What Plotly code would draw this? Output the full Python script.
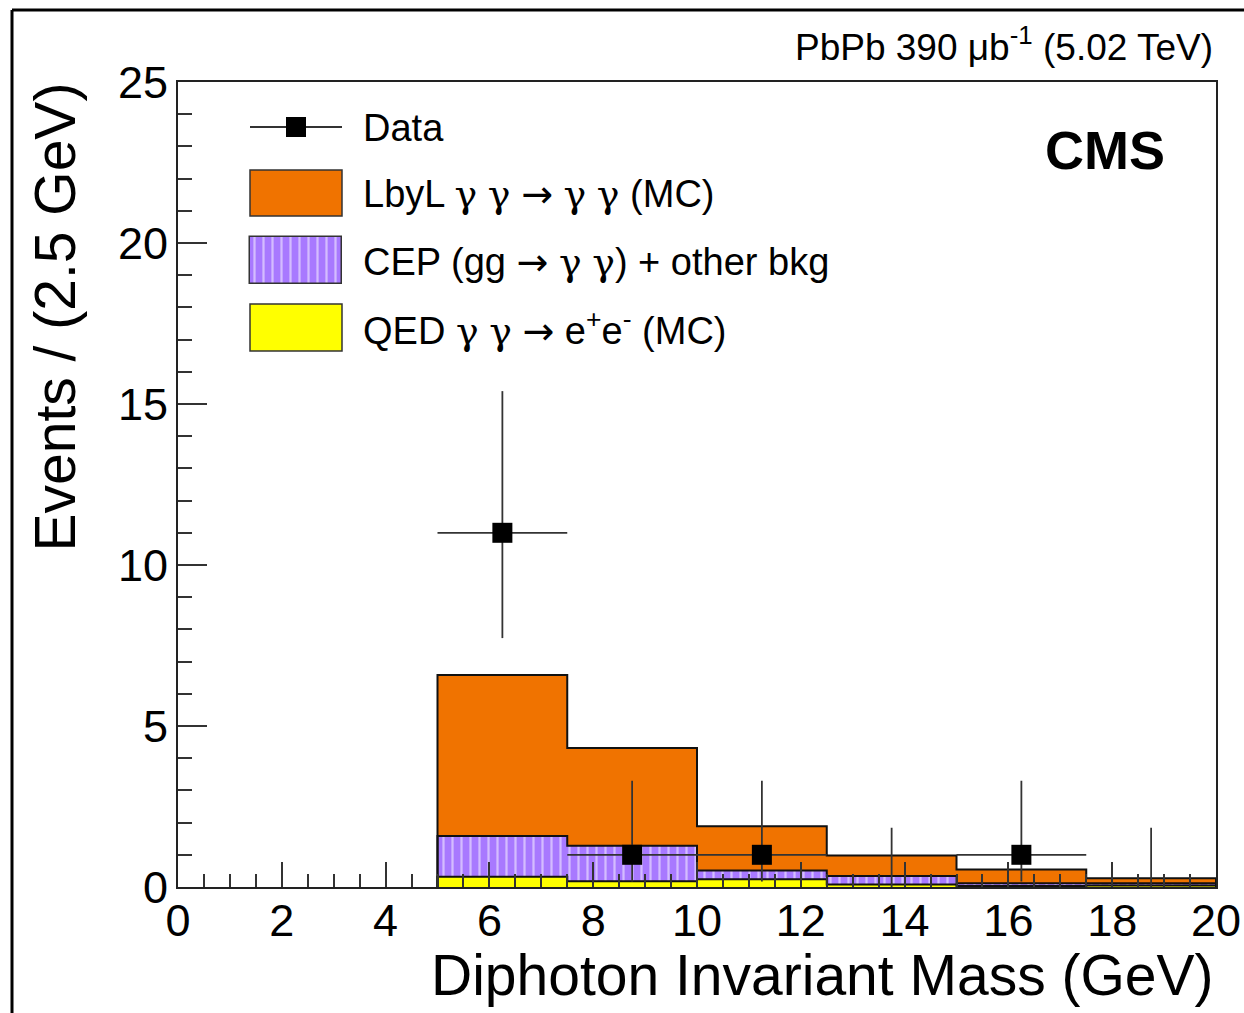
import numpy as np
import plotly.graph_objects as go

# ---------------- data ----------------
bin_edges = [5.0, 7.5, 10.0, 12.5, 15.0, 17.5, 20.0]
bin_centers = [6.25, 8.75, 11.25, 13.75, 16.25, 18.75]
qed_vals = [0.32, 0.18, 0.24, 0.08, 0.03, 0.05]
cep_vals = [1.26, 1.10, 0.27, 0.26, 0.09, 0.07]
lbyl_vals = [5.00, 3.04, 1.38, 0.64, 0.42, 0.15]

data_x = [6.25, 8.75, 11.25, 13.75, 16.25, 18.75]
data_y = [11, 1, 1, 0, 1, 0]
data_err_up = [4.40, 2.30, 2.30, 1.84, 2.30, 1.84]
data_err_dn = [3.27, 0.83, 0.83, 0.0, 0.83, 0.0]
data_err_x = [1.25, 1.25, 1.25, 0.0, 1.25, 0.0]

x_ticks = [0, 2, 4, 6, 8, 10, 12, 14, 16, 18, 20]
y_ticks = [0, 5, 10, 15, 20, 25]

ORANGE = "#f07300"
YELLOW = "#ffff00"
PURPLE = "#a879ff"
FONT = "Liberation Sans"
GREEK = "DejaVu Serif"
ARROW = "DejaVu Sans"

W, H = 1244, 1013
L, R, T, B = 178, 1216, 82, 887


def px(x):
    return (x - L) / (R - L)


def py(y):
    return (B - y) / (B - T)


qed = np.array(qed_vals)
cep = np.array(cep_vals)
lbyl = np.array(lbyl_vals)
lvl1 = qed
lvl2 = qed + cep
lvl3 = qed + cep + lbyl

fig = go.Figure()

# filled stacked histogram bins (no outlines)
fig.add_trace(go.Bar(x=bin_centers, y=qed, base=np.zeros_like(qed), width=2.5,
                     marker=dict(color=YELLOW, line=dict(width=0)), showlegend=False))
fig.add_trace(go.Bar(x=bin_centers, y=cep, base=lvl1, width=2.5,
                     marker=dict(color=PURPLE, line=dict(width=0),
                                 pattern=dict(shape="|", fgcolor="white", bgcolor=PURPLE,
                                              size=9, solidity=0.25)),
                     showlegend=False))
fig.add_trace(go.Bar(x=bin_centers, y=lbyl, base=lvl2, width=2.5,
                     marker=dict(color=ORANGE, line=dict(width=0)), showlegend=False))

# step outlines
for lvl in (lvl1, lvl2, lvl3):
    sx = [bin_edges[0]] + list(bin_edges[:-1]) + [bin_edges[-1], bin_edges[-1]]
    sy = [0.0] + list(lvl) + [lvl[-1], 0.0]
    fig.add_trace(go.Scatter(x=sx, y=sy, mode="lines", line=dict(color="#111", width=2, shape="hv"),
                             showlegend=False, hoverinfo="skip"))

# data points
fig.add_trace(go.Scatter(
    x=data_x, y=data_y, mode="markers",
    marker=dict(symbol="square", color="black", opacity=1,
                size=[20 if v > 0 else 0 for v in data_y], line=dict(width=0)),
    error_y=dict(type="data", symmetric=False, array=data_err_up, arrayminus=data_err_dn,
                 color="#333", thickness=1.8, width=0),
    error_x=dict(type="data", array=data_err_x, color="#333", thickness=1.8, width=0),
    showlegend=False, cliponaxis=True))

# legend swatch with pattern on an auxiliary pixel axis
fig.add_trace(go.Bar(x=[296], y=[47], base=[237], width=[92], xaxis="x2", yaxis="y2",
                     marker=dict(color=PURPLE, line=dict(color="#333", width=1.5),
                                 pattern=dict(shape="|", fgcolor="white", bgcolor=PURPLE,
                                              size=9, solidity=0.25)),
                     showlegend=False, hoverinfo="skip"))

shapes = []
# outer frame (left + top)
shapes.append(dict(type="line", xref="paper", yref="paper", x0=px(12), y0=py(1013), x1=px(12), y1=py(10),
                   line=dict(color="black", width=3)))
shapes.append(dict(type="line", xref="paper", yref="paper", x0=px(12), y0=py(10), x1=px(1244), y1=py(10),
                   line=dict(color="black", width=3)))
# legend: data
shapes.append(dict(type="line", xref="paper", yref="paper", x0=px(250), x1=px(342), y0=py(127), y1=py(127),
                   line=dict(color="#333", width=1.8)))
shapes.append(dict(type="rect", xref="paper", yref="paper", x0=px(286), x1=px(306), y0=py(117), y1=py(137),
                   fillcolor="black", line=dict(width=0)))
# legend boxes
shapes.append(dict(type="rect", xref="paper", yref="paper", x0=px(250), x1=px(342), y0=py(170), y1=py(216),
                   fillcolor=ORANGE, line=dict(color="#333", width=1.5)))
shapes.append(dict(type="rect", xref="paper", yref="paper", x0=px(250), x1=px(342), y0=py(304), y1=py(351),
                   fillcolor=YELLOW, line=dict(color="#333", width=1.5)))

gm = f'<span style="font-family:{GREEK}">γ</span>'
ar = f'<span style="font-family:{ARROW}">→</span>'
annotations = [
    dict(text="Data", x=px(361), y=py(128)),
    dict(text=f"LbyL {gm} {gm} {ar} {gm} {gm} (MC)", x=px(361), y=py(194)),
    dict(text=f"CEP (gg {ar} {gm} {gm}) + other bkg", x=px(361), y=py(262)),
    dict(text=f"QED {gm} {gm} {ar} e<sup>+</sup>e<sup>-</sup> (MC)", x=px(361), y=py(328)),
]
for a in annotations:
    a.update(xref="paper", yref="paper", showarrow=False, xanchor="left", yanchor="middle",
             font=dict(family=FONT, size=38, color="black"))

annotations += [
    dict(text="PbPb 390 μb<sup>-1</sup> (5.02 TeV)", x=px(1215), y=py(45), xanchor="right", yanchor="middle",
         xref="paper", yref="paper", showarrow=False, font=dict(family=FONT, size=37, color="black")),
    dict(text="<b>CMS</b>", x=px(1167), y=py(150), xanchor="right", yanchor="middle",
         xref="paper", yref="paper", showarrow=False, font=dict(family=FONT, size=54, color="black")),
    dict(text="Diphoton Invariant Mass (GeV)", x=px(1216), y=py(975), xanchor="right", yanchor="middle",
         xref="paper", yref="paper", showarrow=False, font=dict(family=FONT, size=57, color="black")),
    dict(text="Events / (2.5 GeV)", x=px(54), y=py(81), xanchor="center", yanchor="top", textangle=-90,
         xref="paper", yref="paper", showarrow=False, font=dict(family=FONT, size=57, color="black")),
]

fig.update_layout(
    width=W, height=H,
    margin=dict(l=L, r=W - R, t=T, b=H - B, pad=0, autoexpand=False),
    paper_bgcolor="white", plot_bgcolor="white",
    barmode="overlay", bargap=0,
    showlegend=False,
    shapes=shapes, annotations=annotations,
    xaxis=dict(range=[0, 20], tickvals=x_ticks, ticks="inside", ticklen=25, tickwidth=1.5, tickcolor="#333",
               minor=dict(dtick=0.5, ticks="inside", ticklen=13, tickwidth=1.5, tickcolor="#333"),
               showgrid=False, zeroline=False, showline=True, mirror=True, linecolor="#222", linewidth=2,
               tickfont=dict(family=FONT, size=45, color="black"), ticklabelstandoff=-7, automargin=False),
    yaxis=dict(range=[0, 25], tickvals=y_ticks, ticks="inside", ticklen=29, tickwidth=1.5, tickcolor="#333",
               minor=dict(dtick=1, ticks="inside", ticklen=14, tickwidth=1.5, tickcolor="#333"),
               showgrid=False, zeroline=False, showline=True, mirror=True, linecolor="#222", linewidth=2,
               tickfont=dict(family=FONT, size=45, color="black"), ticklabelstandoff=-1, automargin=False),
    xaxis2=dict(range=[L, R], domain=[0, 1], anchor="y2", overlaying="x", visible=False),
    yaxis2=dict(range=[B, T], domain=[0, 1], anchor="x2", overlaying="y", visible=False),
)

fig.write_html("out.html")
